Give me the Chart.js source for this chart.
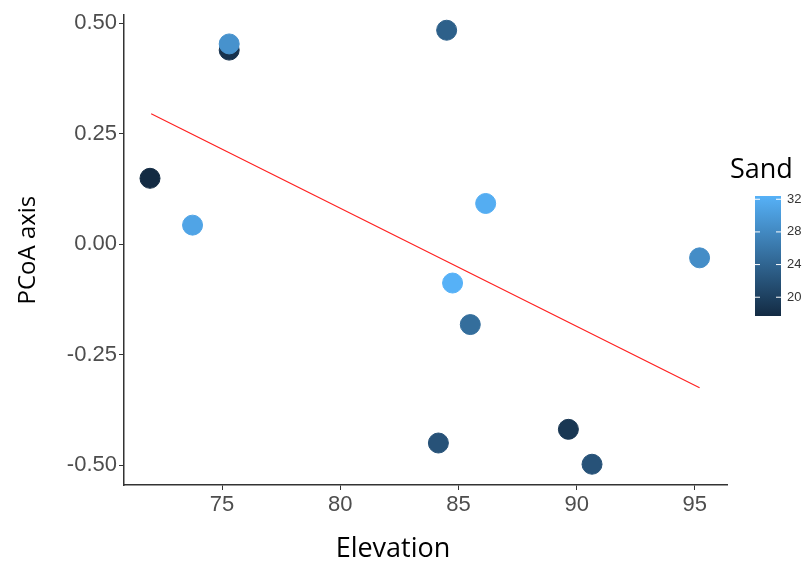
<!DOCTYPE html>
<html lang="en">
<head>
    <meta charset="UTF-8">
    <title>PCoA axis vs Elevation</title>
    <script src="https://cdn.jsdelivr.net/npm/chart.js"></script>
    <style>
        html, body { margin: 0; padding: 0; background: #fff; }
        #wrap { width: 809px; height: 565px; }
    </style>
</head>
<body>
    <div id="wrap"><canvas id="pcoa"></canvas></div>

    <script>
        // values
        const elevation = [75.3, 75.3, 71.95, 73.75, 84.5, 86.15, 95.2, 84.75, 85.5, 84.15, 89.65, 90.65];
        const pcoa      = [0.439, 0.453, 0.149, 0.043, 0.484, 0.092, -0.031, -0.088, -0.182, -0.450, -0.419, -0.498];
        const sand      = [18.5, 29, 17.7, 31, 23.5, 32, 28.5, 32.4, 25, 22, 19, 22];

        // fitted line end points
        const fitX = [72.0, 95.2];
        const fitY = [0.295, -0.325];

        const xTicks = [75, 80, 85, 90, 95];
        const yTicks = [-0.50, -0.25, 0.00, 0.25, 0.50];
        const sandTicks = [20, 24, 28, 32];

        const lowCol = [19, 43, 67];     // #132B43
        const highCol = [86, 177, 247];  // #56B1F7
        const sandMin = Math.min(...sand);
        const sandMax = Math.max(...sand);

        function sandColor(v) {
            const t = (v - sandMin) / (sandMax - sandMin);
            const c = lowCol.map((lo, i) => Math.round(lo + (highCol[i] - lo) * t));
            return 'rgb(' + c.join(',') + ')';
        }

        // colour bar legend + x title drawn by hand
        const extras = {
            id: 'extras',
            afterDraw(chart) {
                const ctx = chart.ctx;
                const x = 755, w = 26, top = 196, bottom = 316;
                const grad = ctx.createLinearGradient(0, bottom, 0, top);
                grad.addColorStop(0, sandColor(sandMin));
                grad.addColorStop(1, sandColor(sandMax));
                ctx.save();
                ctx.fillStyle = grad;
                ctx.fillRect(x, top, w, bottom - top);

                ctx.fillStyle = '#000';
                ctx.font = '27px "Open Sans"';
                ctx.textAlign = 'left';
                ctx.textBaseline = 'middle';
                ctx.fillText('Sand', 730, 170);

                // x axis title sits a bit left of the plot centre in the original
                ctx.textAlign = 'center';
                ctx.font = '27px "Open Sans"';
                ctx.fillText('Elevation', 393, 549);

                ctx.textAlign = 'left';
                ctx.font = '13px "Liberation Sans", Arial';
                ctx.fillStyle = '#333';
                ctx.strokeStyle = '#fff';
                ctx.lineWidth = 1;
                sandTicks.forEach(v => {
                    const y = bottom - (v - sandMin) / (sandMax - sandMin) * (bottom - top);
                    ctx.beginPath();
                    ctx.moveTo(x, y); ctx.lineTo(x + 5, y);
                    ctx.moveTo(x + w - 5, y); ctx.lineTo(x + w, y);
                    ctx.stroke();
                    ctx.fillText(String(v), x + w + 6, y);
                });
                ctx.restore();
            }
        };

        new Chart(document.getElementById('pcoa'), {
            type: 'scatter',
            data: {
                datasets: [{
                    label: 'Sites',
                    data: elevation.map((e, i) => ({ x: e, y: pcoa[i] })),
                    backgroundColor: sand.map(sandColor),
                    borderColor: sand.map(sandColor),
                    pointRadius: 10,
                    pointHoverRadius: 10
                }, {
                    type: 'line',
                    label: 'Fit',
                    data: fitX.map((e, i) => ({ x: e, y: fitY[i] })),
                    borderColor: '#ff2020',
                    borderWidth: 1.2,
                    pointRadius: 0,
                    fill: false
                }]
            },
            options: {
                responsive: true,
                maintainAspectRatio: false,
                animation: false,
                layout: { padding: { left: 0, top: 13, right: 82, bottom: 0 } },
                plugins: { legend: { display: false }, tooltip: { enabled: false } },
                scales: {
                    x: {
                        type: 'linear',
                        min: 70.85,
                        max: 96.36,
                        afterFit(s) { s.height = 80; },
                        afterBuildTicks(s) { s.ticks = xTicks.map(v => ({ value: v })); },
                        ticks: { font: { size: 22, family: 'Liberation Sans' }, color: '#4d4d4d', padding: 2, maxRotation: 0 },
                        grid: { drawOnChartArea: false, tickLength: 5, color: '#333' },
                        border: { color: '#333', width: 1.5 }
                    },
                    y: {
                        min: -0.545,
                        max: 0.518,
                        afterFit(s) { s.width = 124; },
                        afterBuildTicks(s) { s.ticks = yTicks.map(v => ({ value: v })); },
                        ticks: { font: { size: 22, family: 'Liberation Sans' }, color: '#4d4d4d', padding: 2,
                                 callback: v => v.toFixed(2) },
                        grid: { drawOnChartArea: false, tickLength: 5, color: '#333' },
                        border: { color: '#333', width: 1.5 },
                        title: { display: true, text: 'PCoA axis', color: '#000',
                                 font: { size: 24, family: 'Open Sans' }, padding: { top: 14, bottom: 0 } }
                    }
                }
            },
            plugins: [extras]
        });
    </script>
</body>
</html>
